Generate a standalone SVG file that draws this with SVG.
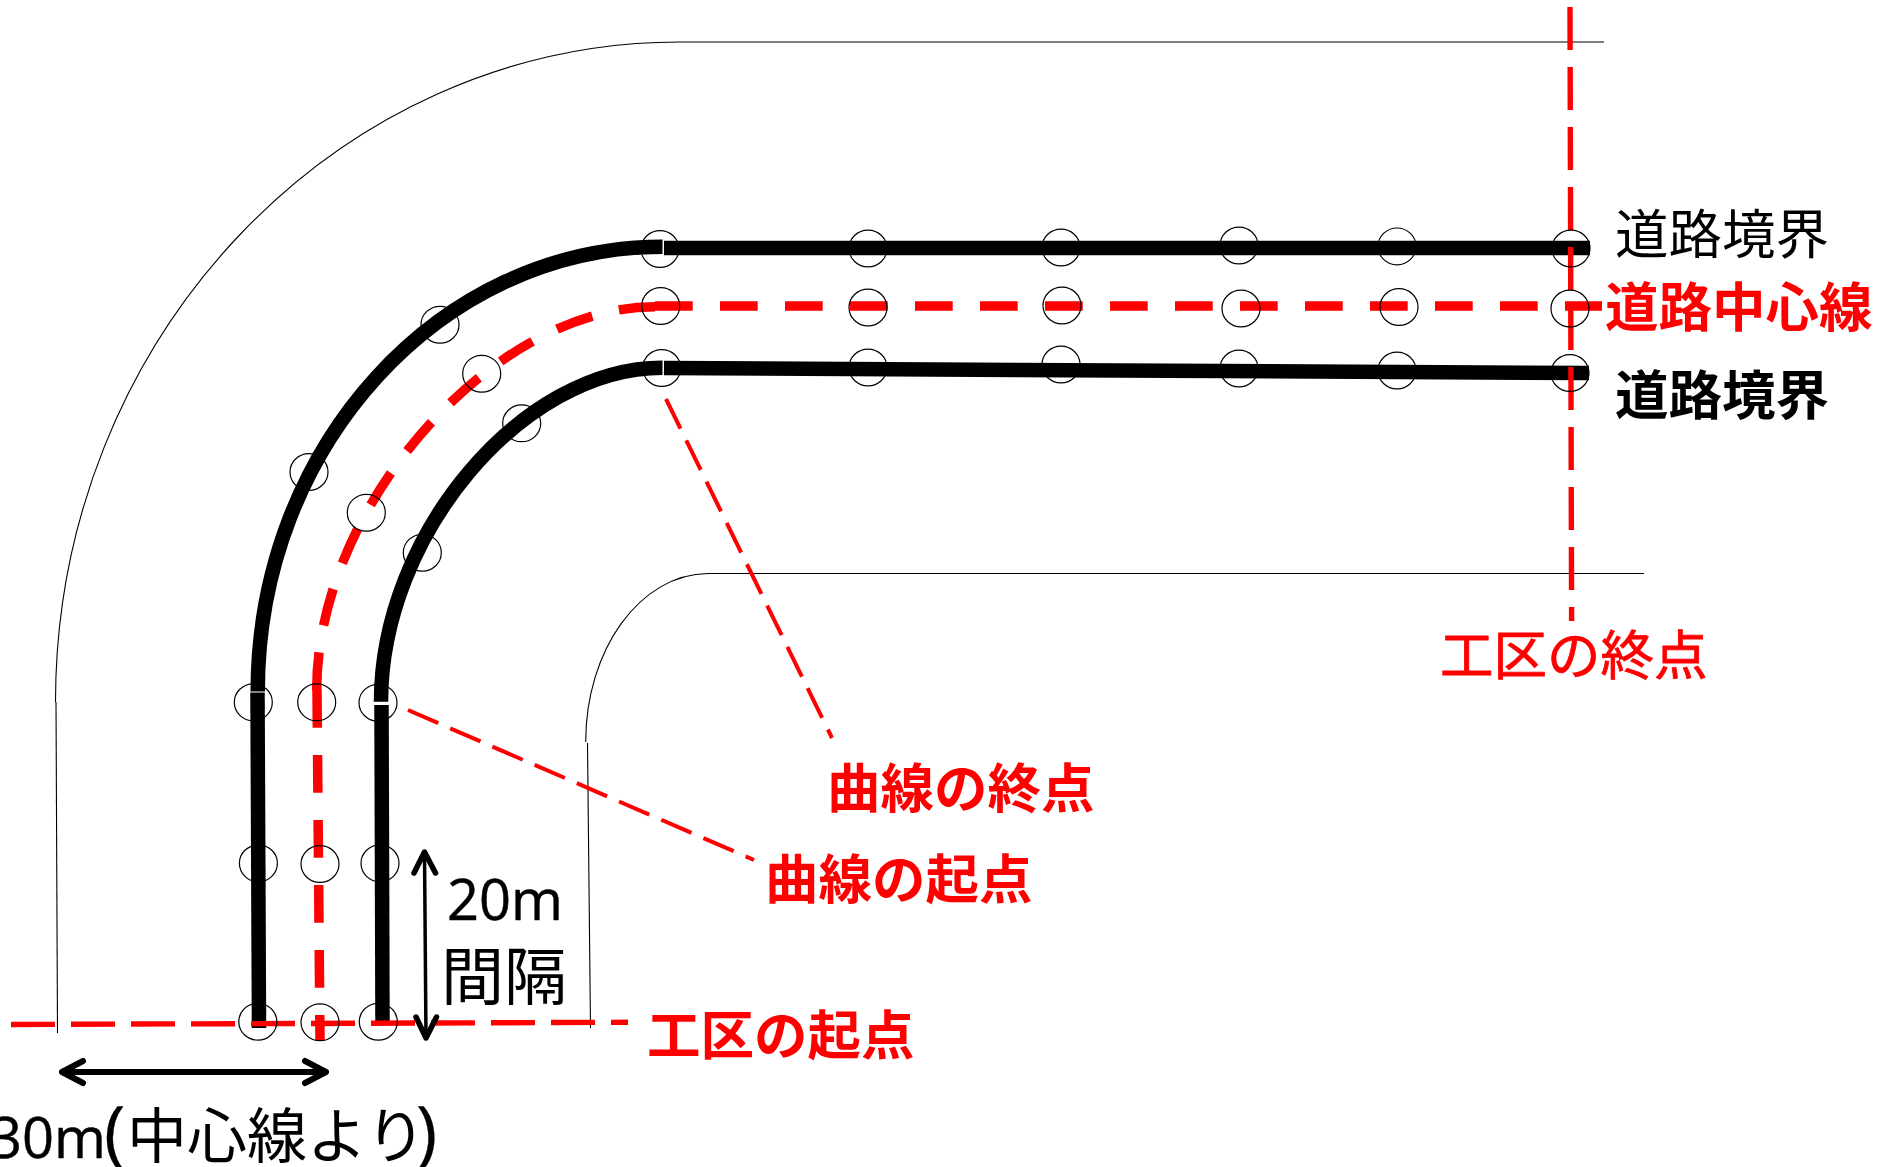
<svg xmlns="http://www.w3.org/2000/svg" width="1878" height="1167" viewBox="0 0 1878 1167">
<style>
.thin{fill:none;stroke:#000;stroke-width:1.1}
.road{fill:none;stroke:#000;stroke-width:14.5}
.center{fill:none;stroke:#f00;stroke-width:9.5;stroke-dasharray:37.7 27.3}
.section{fill:none;stroke:#f00;stroke-width:5.4}
.lead{fill:none;stroke:#f00;stroke-width:4;stroke-dasharray:33 13}
.arrow{fill:none;stroke:#000;stroke-linecap:round;stroke-linejoin:round}
ellipse{fill:none;stroke:#000;stroke-width:1.2}
text{font-family:"Noto Sans CJK JP",sans-serif;font-size:53.5px}
.red{fill:#f00;font-weight:700}
.blk{fill:#000}
.lat{font-family:"Open Sans","Noto Sans CJK JP",sans-serif;font-size:56px;stroke:#000;stroke-width:.5}
</style>
<g id="connectors">
<g id="boundaries">
<path class="thin" d="M55.5 702C55.5 340 335 42 680 42H1604"/>
<path class="thin" d="M56 702L57.5 1033"/>
<path class="thin" d="M585.7 742C585.7 650 640 574 708 573.5H1644"/>
<path class="thin" d="M587.5 743L590.5 1028"/>
</g>
<g id="road-lines">
<path class="road" d="M257.7 691.5C257.7 446 440 246.7 662.5 246.7"/>
<path class="road" d="M257.5 692.5L259 1028"/>
<path class="road" d="M664 248H1590"/>
<path class="road" d="M381 701.7C381 535 522 367.7 662.5 367.7"/>
<path class="road" d="M381.5 705L382.5 1021"/>
<path class="road" d="M664 368L1589 373"/>
</g>
<g id="center-line">
<path class="center" d="M316.7 690C316.7 506 493 306.7 655 306.7"/>
<path class="center" d="M317 690L320 1040"/>
<path class="center" d="M655 306H1602"/>
</g>
<g id="section-lines">
<path class="section" stroke-dasharray="44 16" d="M11 1024.5L628 1022.3"/>
<path class="section" stroke-dasharray="43 17" d="M1570 7L1571.6 621"/>
</g>
<g id="leaders">
<path class="lead" d="M408 710L754 860"/>
<path class="lead" d="M666 399L832 738"/>
</g>
<g id="dimension-arrows">
<path class="arrow" stroke-width="3.5" d="M424.5 852L426 1038"/>
<path class="arrow" stroke-width="5.5" d="M414 873L424.5 852L435.5 873M416 1017L426 1038L436.5 1017"/>
<path class="arrow" stroke-width="6" d="M64 1072H324M83 1061L62 1072L83 1083M305 1061L326 1072L305 1083"/>
</g>
</g>
<g id="stakes">
<ellipse cx="253.3" cy="702.3" rx="19" ry="18.4"/>
<ellipse cx="316.7" cy="702.3" rx="19" ry="18.4"/>
<ellipse cx="378" cy="702.7" rx="19" ry="18.4"/>
<ellipse cx="309" cy="472" rx="19" ry="18.4"/>
<ellipse cx="440" cy="324.7" rx="19" ry="18.4"/>
<ellipse cx="660" cy="249" rx="19" ry="18.4"/>
<ellipse cx="660.7" cy="306" rx="19" ry="18.4"/>
<ellipse cx="661.7" cy="368" rx="19" ry="18.4"/>
<ellipse cx="481.7" cy="373.7" rx="19" ry="18.4"/>
<ellipse cx="366.3" cy="512.7" rx="19" ry="18.4"/>
<ellipse cx="521.7" cy="423.3" rx="19" ry="18.4"/>
<ellipse cx="422.3" cy="552.7" rx="19" ry="18.4"/>
<ellipse cx="258.4" cy="863.3" rx="19" ry="18.4"/>
<ellipse cx="320" cy="864" rx="19" ry="18.4"/>
<ellipse cx="380" cy="863.3" rx="19" ry="18.4"/>
<ellipse cx="257.8" cy="1021.7" rx="19" ry="18.4"/>
<ellipse cx="320" cy="1022.3" rx="19" ry="18.4"/>
<ellipse cx="378.3" cy="1021.7" rx="19" ry="18.4"/>
<ellipse cx="868" cy="248.5" rx="19" ry="18.4"/>
<ellipse cx="1061" cy="247.5" rx="19" ry="18.4"/>
<ellipse cx="1239" cy="245.5" rx="19" ry="18.4"/>
<ellipse cx="1397" cy="246.4" rx="19" ry="18.4"/>
<ellipse cx="1571" cy="248.5" rx="19" ry="18.4"/>
<ellipse cx="868" cy="307.5" rx="19" ry="18.4"/>
<ellipse cx="1062" cy="305.5" rx="19" ry="18.4"/>
<ellipse cx="1241" cy="308.5" rx="19" ry="18.4"/>
<ellipse cx="1399" cy="307" rx="19" ry="18.4"/>
<ellipse cx="1570" cy="308.5" rx="19" ry="18.4"/>
<ellipse cx="868" cy="367.5" rx="19" ry="18.4"/>
<ellipse cx="1061" cy="364.5" rx="19" ry="18.4"/>
<ellipse cx="1239" cy="368.5" rx="19" ry="18.4"/>
<ellipse cx="1397" cy="370.5" rx="19" ry="18.4"/>
<ellipse cx="1570" cy="373" rx="19" ry="18.4"/>
</g>
<g id="labels">
<g id="label-boundary-top"><text class="blk" x="1615" y="254">道路境界</text></g>
<g id="label-center"><text class="red" x="1605" y="327">道路中心線</text></g>
<g id="label-boundary-bottom"><text class="blk" font-weight="700" x="1615" y="415">道路境界</text></g>
<g id="label-section-end"><text fill="#f00" stroke="#f00" stroke-width="0.8" x="1440" y="675">工区の終点</text></g>
<g id="label-curve-end"><text class="red" x="827" y="808">曲線の終点</text></g>
<g id="label-curve-start"><text class="red" x="765" y="899">曲線の起点</text></g>
<g id="label-section-start"><text class="red" x="647" y="1055">工区の起点</text></g>
<g id="label-interval"><text class="blk lat" x="447" y="920">20m</text><text class="blk" style="font-size:63px" x="441" y="999">間隔</text></g>
<g id="label-width"><text class="blk lat" x="-10" y="1158">30m<tspan style="font-size:72px;stroke-width:.3" x="104">(</tspan><tspan x="127" style="font-family:'Noto Sans CJK JP',sans-serif;font-size:60px;stroke:none">中心線より</tspan><tspan style="font-size:72px;stroke-width:.3" x="416">)</tspan></text></g>
</g>
</svg>
